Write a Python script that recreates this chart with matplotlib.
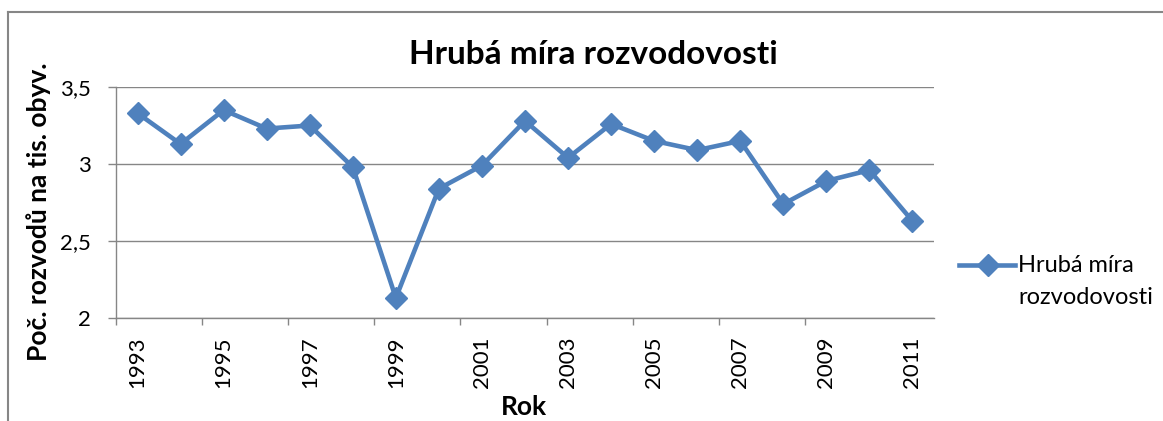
import matplotlib.pyplot as plt
from matplotlib.lines import Line2D
from matplotlib.ticker import FuncFormatter

years = list(range(1993, 2012))
rates = [3.33, 3.13, 3.35, 3.23, 3.25, 2.98, 2.13, 2.84, 2.99, 3.28,
         3.04, 3.26, 3.15, 3.09, 3.15, 2.74, 2.89, 2.96, 2.63]
series_name = "Hrubá míra rozvodovosti"

BLUE = "#4F81BD"
GRAY = "#868686"
W, H = 1163, 421


def main():
    plt.rcParams["font.family"] = ["Lato", "DejaVu Sans"]
    fig = plt.figure(figsize=(W / 100, H / 100), dpi=100)

    # outer chart frame (cropped: only top and left edges visible)
    fig.add_artist(Line2D([8 / W, 8 / W], [0, 1 - 12 / H], color=GRAY, lw=1.5,
                          transform=fig.transFigure))
    fig.add_artist(Line2D([8 / W, 1], [1 - 12 / H, 1 - 12 / H], color=GRAY, lw=1.5,
                          transform=fig.transFigure))

    ax = fig.add_axes([116 / W, 1 - 318 / H, 818 / W, 231 / H])
    x = list(range(len(years)))
    ax.plot(x, rates, color=BLUE, lw=3.3, marker="D", markersize=11,
            markeredgecolor=BLUE, clip_on=False, zorder=3)

    ax.set_xlim(-0.5, len(years) - 0.5)
    ax.set_ylim(2, 3.5)
    ax.set_yticks([2, 2.5, 3, 3.5])
    ax.yaxis.set_major_formatter(FuncFormatter(lambda v, _: f"{v:g}".replace(".", ",")))
    ax.grid(axis="y", color=GRAY, lw=1)
    ax.set_axisbelow(True)

    # tick marks at category boundaries, labels at every other category centre
    ax.set_xticks([i - 0.5 for i in range(0, len(years) - 1, 2)])
    ax.set_xticklabels([])
    ax.set_xticks(x[::2], minor=True)
    ax.set_xticklabels([str(y) for y in years[::2]], minor=True, rotation=90,
                       fontsize=16)
    ax.tick_params(axis="x", which="major", length=5, color=GRAY, width=1)
    ax.tick_params(axis="x", which="minor", length=0, pad=13)
    ax.tick_params(axis="y", length=6, color=GRAY, width=1, labelsize=16, pad=12)

    for side in ("top", "right"):
        ax.spines[side].set_visible(False)
    for side in ("left", "bottom"):
        ax.spines[side].set_color(GRAY)
        ax.spines[side].set_linewidth(1)

    fig.text(593 / W, 1 - 55 / H, series_name, ha="center", va="center",
             fontsize=24, fontweight="bold")
    fig.text(524 / W, 1 - 407 / H, "Rok", ha="center", va="center",
             fontsize=19, fontweight="bold")
    fig.text(39 / W, 1 - 212 / H, "Poč. rozvodů na tis. obyv.", ha="center",
             va="center", rotation=90, fontsize=19, fontweight="bold")

    # legend
    fig.add_artist(Line2D([959 / W, 1015 / W], [1 - 265 / H] * 2, color=BLUE, lw=3.3,
                          transform=fig.transFigure))
    fig.add_artist(Line2D([988 / W], [1 - 265 / H], color=BLUE, marker="D",
                          markersize=11, transform=fig.transFigure))
    fig.text(1018 / W, 1 - 265 / H, "Hrubá míra", ha="left", va="center", fontsize=17)
    fig.text(1018 / W, 1 - 298 / H, "rozvodovosti", ha="left", va="center", fontsize=17)

    fig.savefig("out.png", dpi=100)


if __name__ == "__main__":
    main()
